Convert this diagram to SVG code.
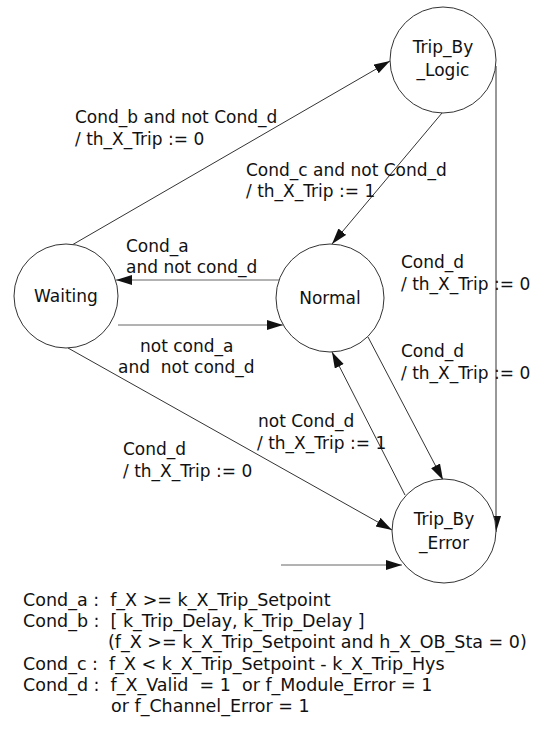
<svg xmlns="http://www.w3.org/2000/svg" width="547" height="736" viewBox="0 0 547 736">
<style>
text{font-family:"DejaVu Sans","Liberation Sans",sans-serif;font-size:17px;fill:#111}
.n{text-anchor:middle}
.st{fill:#fff;stroke:#333;stroke-width:1}
.c{stroke:#333;stroke-width:1;fill:none;marker-end:url(#ah)}
.g{stroke:#666}
.lg{font-size:17.5px}
</style>
<defs>
<marker id="ah" markerUnits="userSpaceOnUse" markerWidth="17" markerHeight="11" refX="16" refY="5" orient="auto">
<path d="M0,0 L16,5 L0,10 z" fill="#111"/>
</marker>
</defs>
<rect width="547" height="736" fill="#fff"/>
<g id="connectors">
<line class="c" x1="72" y1="245" x2="390" y2="61"/>
<line class="c" x1="442" y1="113" x2="332" y2="244"/>
<line class="c" x1="496" y1="66" x2="496" y2="532"/>
<line class="c g" x1="279" y1="280" x2="116" y2="280"/>
<line class="c g" x1="118" y1="325" x2="283" y2="325"/>
<line class="c" x1="68" y1="348" x2="392" y2="530"/>
<line class="c" x1="368" y1="337" x2="443" y2="480"/>
<line class="c" x1="405" y1="495" x2="332" y2="352"/>
<line class="c g" x1="281" y1="565" x2="402" y2="565"/>
</g>
<g id="Trip_By_Logic">
<circle class="st" cx="443" cy="60" r="53"/>
<text class="n" x="443" y="53">Trip_By</text>
<text class="n" x="443" y="76">_Logic</text>
</g>
<g id="Waiting">
<circle class="st" cx="66" cy="296" r="52"/>
<text class="n" x="66" y="302">Waiting</text>
</g>
<g id="Normal">
<circle class="st" cx="330" cy="298" r="54"/>
<text class="n" x="330" y="304">Normal</text>
</g>
<g id="Trip_By_Error">
<circle class="st" cx="444" cy="531" r="52"/>
<text class="n" x="444" y="525">Trip_By</text>
<text class="n" x="444" y="549">_Error</text>
</g>
<g id="labels">
<text x="75" y="123">Cond_b and not Cond_d</text>
<text x="75" y="145">/ th_X_Trip := 0</text>
<text x="246" y="176">Cond_c and not Cond_d</text>
<text x="246" y="197">/ th_X_Trip := 1</text>
<text x="126" y="252">Cond_a</text>
<text x="126" y="273">and not cond_d</text>
<text x="140" y="352">not cond_a</text>
<text x="118" y="373" xml:space="preserve">and  not cond_d</text>
<text x="401" y="268">Cond_d</text>
<text x="401" y="290">/ th_X_Trip := 0</text>
<text x="401" y="357">Cond_d</text>
<text x="401" y="379">/ th_X_Trip := 0</text>
<text x="258" y="427">not Cond_d</text>
<text x="257" y="449">/ th_X_Trip := 1</text>
<text x="123" y="455">Cond_d</text>
<text x="123" y="477">/ th_X_Trip := 0</text>
</g>
<g id="legend" class="lg">
<text class="lg" x="23" y="606" xml:space="preserve">Cond_a :  f_X &gt;= k_X_Trip_Setpoint</text>
<text class="lg" x="23" y="627" xml:space="preserve">Cond_b :  [ k_Trip_Delay, k_Trip_Delay ]</text>
<text class="lg" x="108" y="648">(f_X &gt;= k_X_Trip_Setpoint and h_X_OB_Sta = 0)</text>
<text class="lg" x="23" y="670" xml:space="preserve">Cond_c :  f_X &lt; k_X_Trip_Setpoint - k_X_Trip_Hys</text>
<text class="lg" x="23" y="691" xml:space="preserve">Cond_d :  f_X_Valid  = 1  or f_Module_Error = 1</text>
<text class="lg" x="111" y="712">or f_Channel_Error = 1</text>
</g>
</svg>
